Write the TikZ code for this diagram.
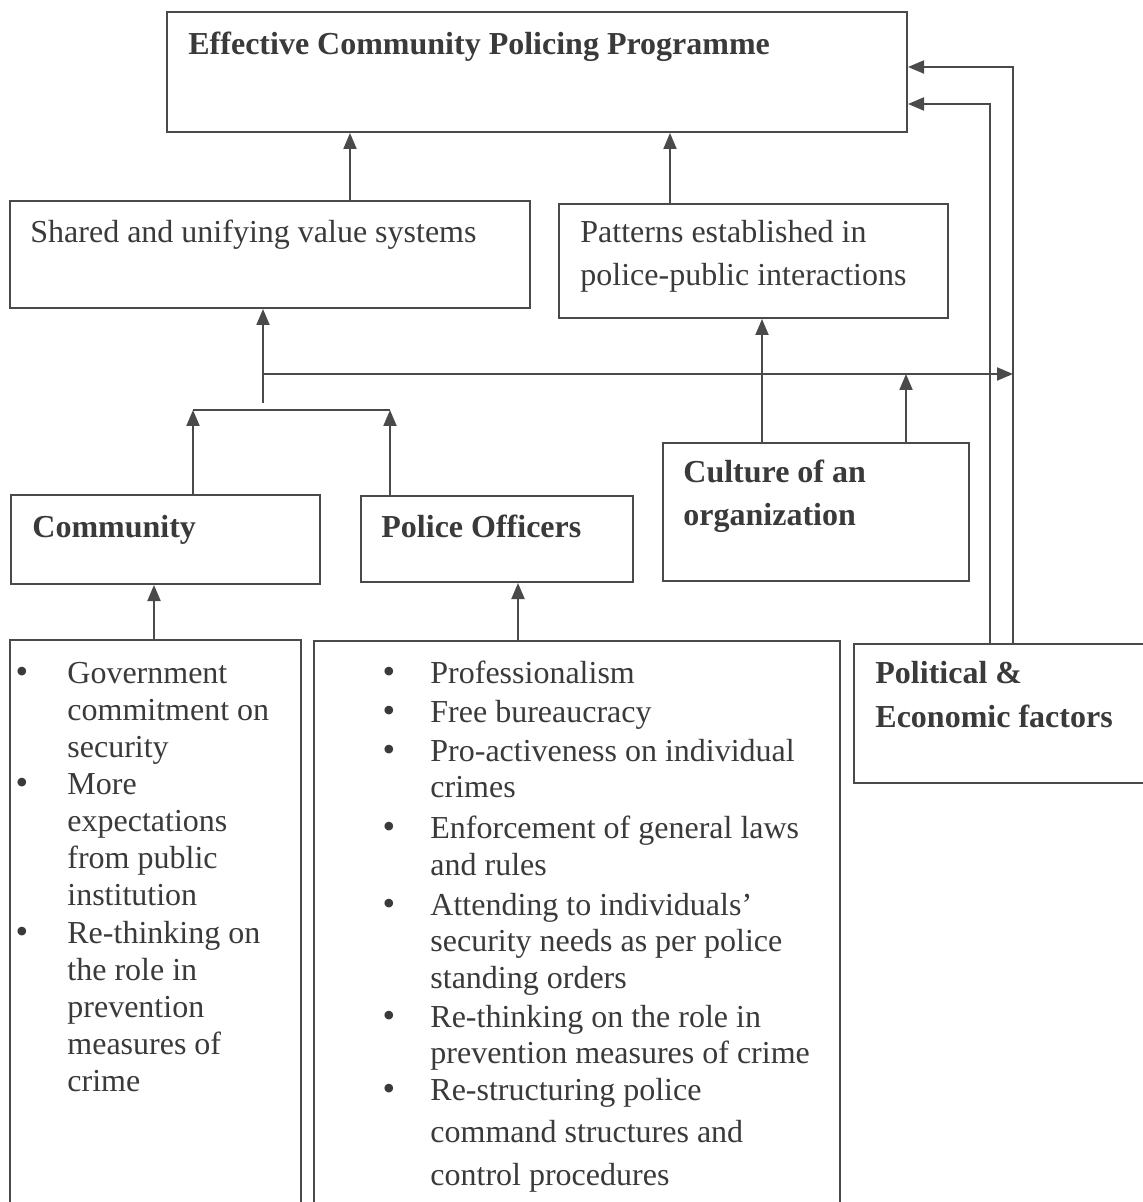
\documentclass[tikz,border=0pt]{standalone}
\usepackage{fontspec}
\setmainfont{Liberation Serif}
\usetikzlibrary{arrows.meta}
\definecolor{ink}{HTML}{4A4A4A}
\definecolor{txtc}{HTML}{3A3A3A}
\begin{document}
\begin{tikzpicture}[x=0.5pt,y=-0.5pt,
  box/.style={draw=ink,line width=1pt,inner sep=0pt,anchor=north west},
  txt/.style={inner sep=0pt,anchor=base west,text=txtc,align=left,font=\fontsize{16}{18.5}\selectfont},
  btxt/.style={inner sep=0pt,anchor=base west,text=txtc,align=left,font=\fontsize{16}{22}\selectfont\bfseries},
  bul/.style={inner sep=0pt,anchor=base,text=txtc,font=\fontsize{18}{18.5}\selectfont},
  arr/.style={draw=ink,line width=1pt,-{Triangle[length=8pt,width=6.5pt]}},
  ln/.style={draw=ink,line width=1pt}]
\clip (0,0) rectangle (1143,1202);
\fill[white] (0,0) rectangle (1143,1202);

% boxes
\node[box,minimum width=370pt,minimum height=60pt] (top) at (166,11) {};
\node[box,minimum width=260pt,minimum height=53.5pt] (shared) at (9,200) {};
\node[box,minimum width=194.5pt,minimum height=57pt] (patterns) at (558,203) {};
\node[box,minimum width=154.5pt,minimum height=44.5pt] (community) at (10,494) {};
\node[box,minimum width=136pt,minimum height=43pt] (police) at (360,495) {};
\node[box,minimum width=153pt,minimum height=69pt] (culture) at (662,442) {};
\node[box,minimum width=150pt,minimum height=69.5pt] (political) at (853,643) {};
\node[box,minimum width=145.5pt,minimum height=288pt] (leftlist) at (9,639) {};
\node[box,minimum width=263pt,minimum height=287.5pt] (midlist) at (313,640) {};

% texts (multi-line nodes are placed by the baseline of their last line)
\node[btxt] (ttop) at (188,55) {Effective Community Policing Programme};
\node[txt] (tshared) at (30,243) {Shared and unifying value systems};
\node[txt,font=\fontsize{16}{21.5}\selectfont] (tpatterns) at (580,286) {Patterns established in\\police-public interactions};
\node[btxt] (tcommunity) at (32,537) {Community};
\node[btxt] (tpolice) at (381,537) {Police Officers};
\node[btxt,font=\fontsize{16}{21.5}\selectfont\bfseries] (tculture) at (683,525) {Culture of an\\organization};
\node[btxt] (tpolitical) at (875,727) {Political \&\\Economic factors};

% left list
\node[bul] (lb1) at (22,683) {\textbullet};
\node[txt] (li1) at (67,757) {Government\\commitment on\\security};
\node[bul] (lb2) at (22,794) {\textbullet};
\node[txt] (li2) at (67,905) {More\\expectations\\from public\\institution};
\node[bul] (lb3) at (22,943) {\textbullet};
\node[txt] (li3) at (67,1091) {Re-thinking on\\the role in\\prevention\\measures of\\crime};

% middle list
\node[bul] (mb1) at (389,683) {\textbullet};
\node[txt] (mi1) at (430,683) {Professionalism};
\node[bul] (mb2) at (389,722) {\textbullet};
\node[txt] (mi2) at (430,722) {Free bureaucracy};
\node[bul] (mb3) at (389,761) {\textbullet};
\node[txt,font=\fontsize{16}{18}\selectfont] (mi3) at (430,797) {Pro-activeness on individual\\crimes};
\node[bul] (mb4) at (389,838) {\textbullet};
\node[txt] (mi4) at (430,875) {Enforcement of general laws\\and rules};
\node[bul] (mb5) at (389,915) {\textbullet};
\node[txt,font=\fontsize{16}{18.25}\selectfont] (mi5) at (430,988) {Attending to individuals'\\security needs as per police\\standing orders};
\node[bul] (mb6) at (389,1027) {\textbullet};
\node[txt,font=\fontsize{16}{18}\selectfont] (mi6) at (430,1063) {Re-thinking on the role in\\prevention measures of crime};
\node[bul] (mb7) at (389,1100) {\textbullet};
\node[txt,font=\fontsize{16}{21.25}\selectfont] (mi7) at (430,1185) {Re-structuring police\\command structures and\\control procedures};

% helper coordinates
\coordinate (x350) at (350,0);
\coordinate (x670) at (670,0);
\coordinate (hub) at (263,403);
\coordinate (h374) at (263,374);
\coordinate (railA) at (990,0);
\coordinate (railB) at (1013,0);
\coordinate (ya) at (0,104);
\coordinate (yb) at (0,67);
\coordinate (bk) at (0,410);
\coordinate (xc) at (193,0);
\coordinate (xp) at (390,0);
\coordinate (xu1) at (762,0);
\coordinate (xu2) at (906,0);
\coordinate (xl) at (154,0);
\coordinate (xm) at (518,0);

% connectors
\draw[arr] (shared.north -| x350) -- (top.south -| x350);
\draw[arr] (patterns.north -| x670) -- (top.south -| x670);
\draw[arr] (hub) -- (hub |- shared.south);
\draw[arr] (h374) -- (h374 -| railB);
\draw[arr] (political.north -| railA) -- (railA |- ya) -- (ya -| top.east);
\draw[arr] (political.north -| railB) -- (railB |- yb) -- (yb -| top.east);
\draw[arr] (community.north -| xc) -- (bk -| xc);
\draw[arr] (police.north -| xp) -- (bk -| xp);
\draw[ln] (bk -| xc) -- (bk -| xp);
\draw[arr] (culture.north -| xu1) -- (patterns.south -| xu1);
\draw[arr] (culture.north -| xu2) -- (h374 -| xu2);
\draw[arr] (leftlist.north -| xl) -- (community.south -| xl);
\draw[arr] (midlist.north -| xm) -- (police.south -| xm);
\end{tikzpicture}
\end{document}
